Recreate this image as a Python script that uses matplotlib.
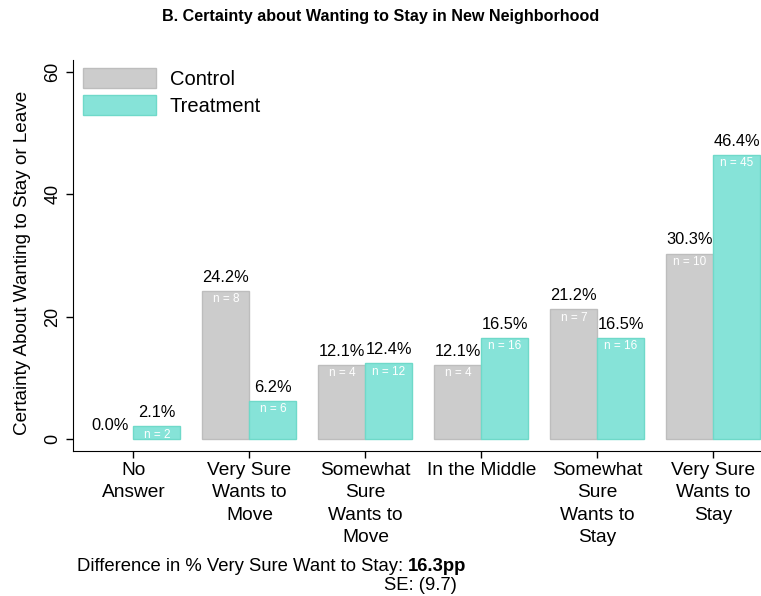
import matplotlib.pyplot as plt
from matplotlib.patches import Patch
import numpy as np

plt.rcParams['font.family'] = ['Liberation Sans', 'DejaVu Sans']

# data
categories = ["No\nAnswer", "Very Sure\nWants to\nMove", "Somewhat\nSure\nWants to\nMove",
              "In the Middle", "Somewhat\nSure\nWants to\nStay", "Very Sure\nWants to\nStay"]
control = [0.0, 24.2, 12.1, 12.1, 21.2, 30.3]
treatment = [2.1, 6.2, 12.4, 16.5, 16.5, 46.4]
control_n = [0, 8, 4, 4, 7, 10]
treatment_n = [2, 6, 12, 16, 16, 45]

c_col = "#cccccc"
c_edge = "#bdbdbd"
t_col = "#86e3d8"
t_edge = "#6fd9c9"

fig = plt.figure(figsize=(7.61, 5.96), dpi=100)
ax = fig.add_axes([0.096, 0.243, 0.904, 0.657])

x = np.arange(len(categories))
w = 0.405
b1 = ax.bar(x - w/2, control, w, color=c_col, edgecolor=c_edge, linewidth=1)
b2 = ax.bar(x + w/2, treatment, w, color=t_col, edgecolor=t_edge, linewidth=1)
for r in list(b1) + list(b2):
    if r.get_height() == 0:
        r.set_visible(False)

for xi, v, n in zip(x - w/2, control, control_n):
    ax.text(xi, v + 1.0, f"{v:.1f}%", ha="center", va="bottom", fontsize=11.8)
    if n > 0:
        ax.text(xi, v - 0.4, f"n = {n}", ha="center", va="top", fontsize=8.5, color="white")
for xi, v, n in zip(x + w/2, treatment, treatment_n):
    ax.text(xi, v + 1.0, f"{v:.1f}%", ha="center", va="bottom", fontsize=11.8)
    ax.text(xi, v - 0.4, f"n = {n}", ha="center", va="top", fontsize=8.5, color="white")

ax.set_xlim(-0.52, 5.41)
ax.set_ylim(-2, 62)
ax.set_yticks([0, 20, 40, 60])
ax.set_yticklabels(["0", "20", "40", "60"], rotation=90, va="center", fontsize=13)
ax.set_xticks(x)
ax.set_xticklabels(categories, fontsize=13.8, linespacing=1.4)
ax.tick_params(axis="both", length=5, width=1, color="black")
ax.tick_params(axis="x", pad=3)
ax.spines["top"].set_visible(False)
ax.spines["right"].set_visible(False)
ax.set_ylabel("Certainty About Wanting to Stay or Leave", fontsize=13.6)
ax.yaxis.set_label_coords(-0.061, 0.48)

handles = [Patch(facecolor=c_col, edgecolor=c_edge, linewidth=1, label="Control"),
           Patch(facecolor=t_col, edgecolor=t_edge, linewidth=1, label="Treatment")]
ax.legend(handles=handles, loc="upper left", bbox_to_anchor=(0.003, 0.998), frameon=False,
          fontsize=14.5, handlelength=3.6, handleheight=1.15, labelspacing=0.3,
          handletextpad=0.7, borderaxespad=0.0)

fig.text(0.5, 0.972, "B. Certainty about Wanting to Stay in New Neighborhood",
         ha="center", va="center", fontsize=11.6, fontweight="bold")

t1 = fig.text(0.101, 0.05, "Difference in % Very Sure Want to Stay: ", ha="left", va="center", fontsize=13.3)
ax.annotate("16.3pp", xy=(1, 0.5), xycoords=t1, ha="left", va="center", fontsize=13.3,
            fontweight="bold", annotation_clip=False)
fig.text(0.552, 0.018, "SE: (9.7)", ha="center", va="center", fontsize=13.3)

fig.savefig("out.png", dpi=100)
